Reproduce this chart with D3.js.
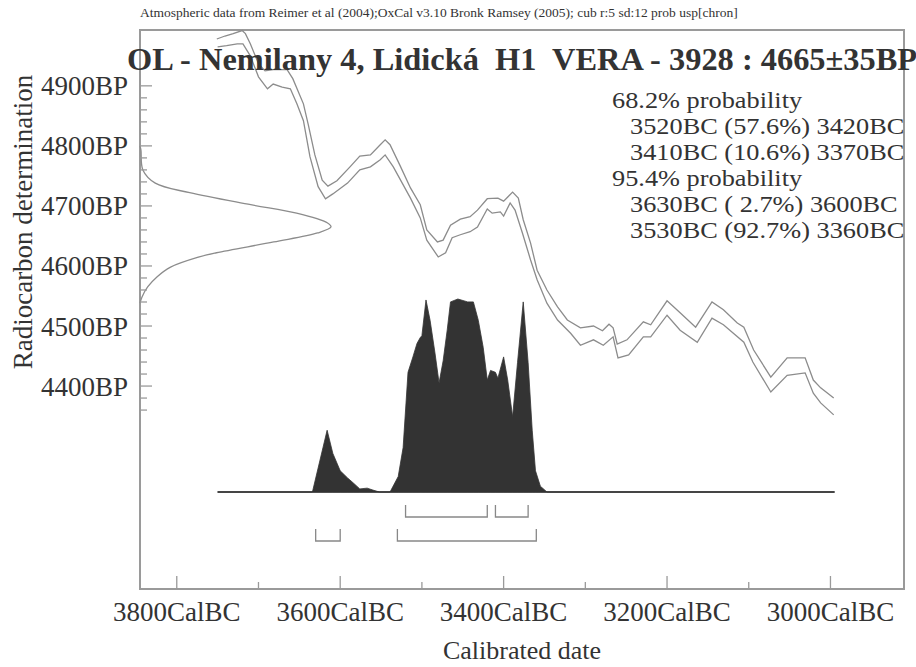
<!DOCTYPE html>
<html><head><meta charset="utf-8">
<script src="https://cdn.jsdelivr.net/npm/d3@7"></script>
<style>
html,body{margin:0;padding:0;background:#fff;}
svg{display:block;}
text{font-family:"Liberation Serif","Times New Roman",serif;fill:#333;}
.pre{white-space:pre;}
</style></head>
<body>
<svg id="chart" width="916" height="667"></svg>
<script>
// ---------- data ----------
const headerText = "Atmospheric data from Reimer et al (2004);OxCal v3.10 Bronk Ramsey (2005); cub r:5 sd:12 prob usp[chron]";
const titleText = "OL - Nemilany 4, Lidická  H1  VERA - 3928 : 4665±35BP";
const xLabel = "Calibrated date";
const yLabel = "Radiocarbon determination";
const xTickYears = [3800, 3600, 3400, 3200, 3000];
const xTickLabels = ["3800CalBC", "3600CalBC", "3400CalBC", "3200CalBC", "3000CalBC"];
const xMinorYears = [3700, 3500, 3300, 3100];
const yTickBP = [4900, 4800, 4700, 4600, 4500, 4400];
const yTickLabels = ["4900BP", "4800BP", "4700BP", "4600BP", "4500BP", "4400BP"];
const yMinorBP = [4880,4860,4840,4820,4780,4760,4740,4720,4680,4660,4640,4620,4580,4560,4540,4520,4480,4460,4440,4420,4380,4360];
const summaryLines = [
  {text: "68.2% probability", indent: false},
  {text: "3520BC (57.6%) 3420BC", indent: true},
  {text: "3410BC (10.6%) 3370BC", indent: true},
  {text: "95.4% probability", indent: false},
  {text: "3630BC ( 2.7%) 3600BC", indent: true},
  {text: "3530BC (92.7%) 3360BC", indent: true}
];
const ranges68 = [[3520, 3420], [3410, 3370]];
const ranges95 = [[3630, 3600], [3530, 3360]];
const plotRange = [3750, 2995];
// calibration curve (+/- 1 sigma), [cal BC, BP]
const curveUpper = [[3751,4978],[3741,4983],[3731,4987],[3720,4992],[3716,4987],[3710,4970],[3700,4937],[3692,4925],[3682,4927],[3665,4927],[3658,4912],[3645,4870],[3639,4835],[3631,4785],[3622,4743],[3615,4733],[3604,4742],[3588,4765],[3576,4783],[3563,4785],[3551,4802],[3545,4810],[3539,4802],[3527,4768],[3514,4730],[3502,4702],[3494,4660],[3481,4640],[3474,4643],[3465,4668],[3453,4678],[3441,4682],[3432,4693],[3420,4712],[3407,4713],[3400,4708],[3389,4723],[3382,4713],[3376,4677],[3367,4638],[3359,4593],[3347,4560],[3334,4532],[3322,4510],[3306,4497],[3290,4500],[3279,4492],[3271,4503],[3266,4497],[3261,4470],[3249,4477],[3229,4507],[3220,4502],[3200,4542],[3184,4522],[3165,4498],[3145,4540],[3131,4527],[3114,4505],[3106,4498],[3094,4460],[3073,4415],[3053,4447],[3031,4447],[3021,4410],[3012,4397],[2996,4380]];
const curveLower = [[3750,4965],[3739,4967],[3726,4970],[3719,4970],[3710,4950],[3700,4915],[3689,4895],[3682,4903],[3671,4898],[3661,4895],[3653,4870],[3645,4842],[3637,4782],[3627,4732],[3618,4712],[3609,4720],[3591,4738],[3576,4760],[3563,4765],[3551,4777],[3545,4785],[3535,4765],[3514,4713],[3502,4680],[3494,4643],[3480,4615],[3471,4622],[3463,4647],[3453,4652],[3441,4657],[3432,4665],[3420,4695],[3414,4688],[3404,4690],[3400,4683],[3392,4705],[3386,4693],[3377,4655],[3367,4610],[3359,4577],[3347,4538],[3334,4510],[3318,4488],[3306,4468],[3290,4477],[3278,4468],[3266,4482],[3260,4447],[3247,4452],[3229,4482],[3220,4482],[3200,4518],[3184,4493],[3163,4473],[3145,4513],[3131,4502],[3106,4473],[3095,4440],[3073,4390],[3053,4418],[3031,4422],[3021,4388],[3012,4372],[2996,4352]];
// radiocarbon measurement distribution: [BP, relative density]
const measDensity = [[4800,0],[4793,0.005],[4760,0.015],[4738,0.08],[4722,0.26],[4702,0.58],[4688,0.82],[4672,0.98],[4665,1.0],[4655,0.93],[4640,0.70],[4622,0.40],[4615,0.31],[4598,0.16],[4582,0.09],[4565,0.04],[4548,0.01],[4538,0]];
// calibrated probability: [cal BC, relative probability]
const calProb = [[3750,0],[3634,0],[3616,0.32],[3609,0.20],[3600,0.11],[3591,0.073],[3584,0.047],[3576,0.016],[3567,0.02],[3560,0.01],[3552,0],[3539,0],[3529,0.08],[3523,0.23],[3517,0.62],[3511,0.70],[3506,0.77],[3502,0.80],[3500,0.81],[3495,0.995],[3490,0.89],[3484,0.72],[3479,0.565],[3474,0.68],[3469,0.84],[3465,0.985],[3456,1.0],[3444,0.985],[3437,0.985],[3431,0.89],[3425,0.75],[3420,0.58],[3416,0.63],[3410,0.62],[3407,0.59],[3400,0.70],[3395,0.58],[3389,0.39],[3383,0.67],[3376,0.985],[3370,0.67],[3365,0.32],[3361,0.11],[3355,0.03],[3347,0],[2995,0]];

// ---------- layout ----------
const svg = d3.select("#chart");
const L = 140, R = 904, T = 30, B = 589;
const x = d3.scaleLinear().domain([3845, 2910]).range([L, R]);
const y = d3.scaleLinear().domain([4993, 4062]).range([T, B]);
const yProb = d3.scaleLinear().domain([0, 1]).range([492, 299]);
const xDens = d3.scaleLinear().domain([0, 1]).range([L, 331]);
const gridCol = "#9a9a9a", curveCol = "#8c8c8c";

// header
svg.append("text").attr("x", 140).attr("y", 17).attr("font-size", 13.5).text(headerText);

// frame
svg.append("rect").attr("x", L).attr("y", T).attr("width", R - L).attr("height", B - T)
  .attr("fill", "none").attr("stroke", gridCol).attr("stroke-width", 2);

// calibration curve
const cl = d3.line().x(d => x(d[0])).y(d => y(d[1]));
[curveUpper, curveLower].forEach(c => svg.append("path").attr("d", cl(c))
  .attr("fill", "none").attr("stroke", curveCol).attr("stroke-width", 1.3));

// measurement distribution on y axis
svg.append("path").attr("d", d3.line().x(d => xDens(d[1])).y(d => y(d[0])).curve(d3.curveCatmullRom)(measDensity))
  .attr("fill", "none").attr("stroke", curveCol).attr("stroke-width", 1.3);

// calibrated distribution
svg.append("path").attr("d", d3.area().x(d => x(d[0])).y0(yProb(0)).y1(d => yProb(d[1]))(calProb))
  .attr("fill", "#333").attr("stroke", "#333").attr("stroke-width", 0.8);
svg.append("line").attr("x1", x(plotRange[0])).attr("x2", x(plotRange[1]))
  .attr("y1", yProb(0)).attr("y2", yProb(0)).attr("stroke", "#333").attr("stroke-width", 1.4);

// range brackets
function brackets(ranges, top, bot) {
  ranges.forEach(r => {
    svg.append("path").attr("d", `M${x(r[0])},${top}V${bot}H${x(r[1])}V${top}`)
      .attr("fill", "none").attr("stroke", "#888").attr("stroke-width", 1.3);
  });
}
brackets(ranges68, 505, 517);
brackets(ranges95, 529, 541);

// y ticks
yTickBP.forEach((v, i) => {
  svg.append("line").attr("x1", L).attr("x2", L + 12).attr("y1", y(v)).attr("y2", y(v)).attr("stroke", gridCol).attr("stroke-width", 1.3);
  svg.append("text").attr("x", 128).attr("y", y(v) + 9.5).attr("text-anchor", "end").attr("font-size", 27).text(yTickLabels[i]);
});
yMinorBP.forEach(v => svg.append("line").attr("x1", L).attr("x2", L + 7).attr("y1", y(v)).attr("y2", y(v)).attr("stroke", gridCol).attr("stroke-width", 1.3));

// x ticks
xTickYears.forEach((v, i) => {
  svg.append("line").attr("x1", x(v)).attr("x2", x(v)).attr("y1", B).attr("y2", B - 13).attr("stroke", gridCol).attr("stroke-width", 1.3);
  svg.append("text").attr("x", x(v)).attr("y", 621).attr("text-anchor", "middle").attr("font-size", 27).text(xTickLabels[i]);
});
xMinorYears.forEach(v => svg.append("line").attr("x1", x(v)).attr("x2", x(v)).attr("y1", B).attr("y2", B - 7).attr("stroke", gridCol).attr("stroke-width", 1.3));

// axis titles
svg.append("text").attr("x", (L + R) / 2).attr("y", 659).attr("text-anchor", "middle").attr("font-size", 26).text(xLabel);
svg.append("text").attr("transform", "translate(32,222) rotate(-90)").attr("text-anchor", "middle").attr("font-size", 27).text(yLabel);

// title
svg.append("text").attr("class", "pre").attr("xml:space", "preserve").attr("x", 127).attr("y", 70)
  .attr("font-size", 32.4).attr("font-weight", "bold").text(titleText);

// summary
summaryLines.forEach((s, i) => {
  svg.append("text").attr("class", "pre")
    .attr("transform", `translate(${s.indent ? 630 : 612},${108 + i * 25.9}) scale(1.13,1)`)
    .attr("font-size", 23.3).text(s.text);
});
</script>
</body></html>
